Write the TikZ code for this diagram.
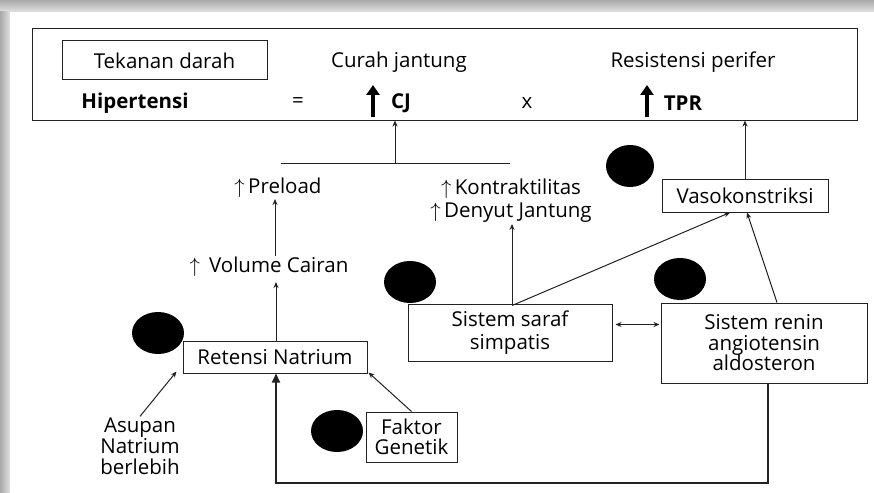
\documentclass[tikz,border=0pt]{standalone}
\usepackage{fontspec}
\setmainfont{Open Sans}
\usetikzlibrary{positioning,arrows.meta,calc}
\definecolor{shadowtop}{HTML}{a9a9a9}
\definecolor{shadowlow}{HTML}{e2e2e2}
\definecolor{linegr}{HTML}{222222}

\begin{document}
\begin{tikzpicture}[x=1pt,y=-1pt,
    box/.style={draw=linegr,line width=1pt,inner sep=0pt,align=center,font=\fontsize{20.5}{23}\selectfont},
    lbl/.style={inner sep=1pt,align=center,font=\fontsize{20.5}{23}\selectfont},
    arr/.style={draw=linegr,line width=1pt,-{Stealth[length=6pt,width=5pt]}},
    bigup/.style={line width=3.5pt,-{Triangle[length=10pt,width=13pt]}},
    blob/.style={fill=black}]

    \useasboundingbox (0,0) rectangle (874,492);

    % card and its shadow
    \shade[top color=shadowtop,bottom color=shadowlow] (0,0) rectangle (874,12);
    \shade[left color=shadowtop,right color=shadowlow] (0,12) rectangle (10,492);
    \fill[white] (10,12) rectangle (874,492);

    % top frame
    \node[box,minimum width=825pt,minimum height=91pt] (frame) at (444.5,74.5) {};
    \node[box,minimum width=205pt,minimum height=39pt] (tekanan) at (164.5,60.5) {Tekanan darah};
    \node[lbl] (curah) at (399,62) {Curah jantung};
    \node[lbl] (resist) at (693,62) {Resistensi perifer};
    \node[lbl,font=\fontsize{20.5}{23}\selectfont\bfseries] (hiper) at (135,103) {Hipertensi};
    \node[lbl] (eq) at (298,103) {=};
    \node[lbl,font=\fontsize{20.5}{23}\selectfont\bfseries] (cj) at (401,103) {CJ};
    \node[lbl] (times) at (527,103) {x};
    \node[lbl,font=\fontsize{20.5}{23}\selectfont\bfseries] (tpr) at (683,103) {TPR};
    \draw[bigup] (373,117) -- (373,85);
    \draw[bigup] (647,117) -- (647,85);

    % curah jantung branch
    \coordinate (jl) at (281,163);
    \coordinate (jr) at (510,163);
    \coordinate (jm) at (395,163);
    \draw[linegr,line width=1pt] (jl) -- (jr);
    \draw[arr] (jm) -- (jm |- frame.south);

    \node[lbl] (preload) at (278,188) {$\uparrow$\,Preload};
    \node[lbl] (kontr) at (511,201) {$\uparrow$\,Kontraktilitas\\$\uparrow$\,Denyut Jantung};
    \node[lbl] (volume) at (269,267) {$\uparrow$\;\,Volume Cairan};

    \node[box,minimum width=166pt,minimum height=33pt] (vaso) at (745,195.5) {Vasokonstriksi};
    \node[box,minimum width=184pt,minimum height=32pt] (retensi) at (275,357) {Retensi Natrium};
    \node[box,minimum width=204pt,minimum height=57pt] (saraf) at (510,332.5) {Sistem saraf\\simpatis};
    \node[box,minimum width=206pt,minimum height=80pt,font=\fontsize{20.5}{20.5}\selectfont] (renin) at (764,343) {Sistem renin\\angiotensin\\aldosteron};
    \node[box,minimum width=91pt,minimum height=50pt,font=\fontsize{20.5}{20}\selectfont] (faktor) at (411.5,437) {Faktor\\Genetik};
    \node[lbl,font=\fontsize{20.5}{21}\selectfont] (asupan) at (140,446) {Asupan\\Natrium\\berlebih};

    % black dots
    \fill[blob] (630,166) ellipse (24pt and 21pt);
    \fill[blob] (158,333) ellipse (26pt and 21pt);
    \fill[blob] (410,282) ellipse (26pt and 21pt);
    \fill[blob] (680,279) ellipse (26pt and 21pt);
    \fill[blob] (337,431) ellipse (26pt and 21pt);

    % connectors
    \draw[arr] ([xshift=1pt]retensi.north) -- ([xshift=1pt,yshift=-4pt]retensi.north |- volume.south);
    \draw[arr] ([xshift=6pt]volume.north) -- ([xshift=-3pt]preload.south);
    \draw[arr] ([xshift=2pt]saraf.north) -- ([xshift=2pt]saraf.north |- kontr.south);
    \draw[arr] ([xshift=2pt,yshift=-2pt]saraf.north) -- ([xshift=-15pt]vaso.south);
    \draw[arr] ([xshift=13pt]renin.north) -- ([xshift=2pt]vaso.south);
    \draw[arr] (vaso.north) -- (vaso.north |- frame.south);
    \draw[linegr,line width=1pt,{Stealth[length=6pt,width=5pt]}-{Stealth[length=6pt,width=5pt]}]
        ([xshift=3pt,yshift=8pt]saraf.east) -- ([xshift=-1pt,yshift=8pt]saraf.east -| renin.west);
    \draw[arr] (asupan.north) -- ([xshift=-6pt,yshift=2pt]retensi.south west);
    \draw[arr] (faktor.north) -- ([xshift=1pt,yshift=1pt]retensi.south east);
    \draw[linegr,line width=2pt,-{Triangle[length=9pt,width=8pt]}]
        ([xshift=4pt]renin.south) -- ++(0,99) -| ([xshift=1pt]retensi.south);

\end{tikzpicture}
\end{document}
